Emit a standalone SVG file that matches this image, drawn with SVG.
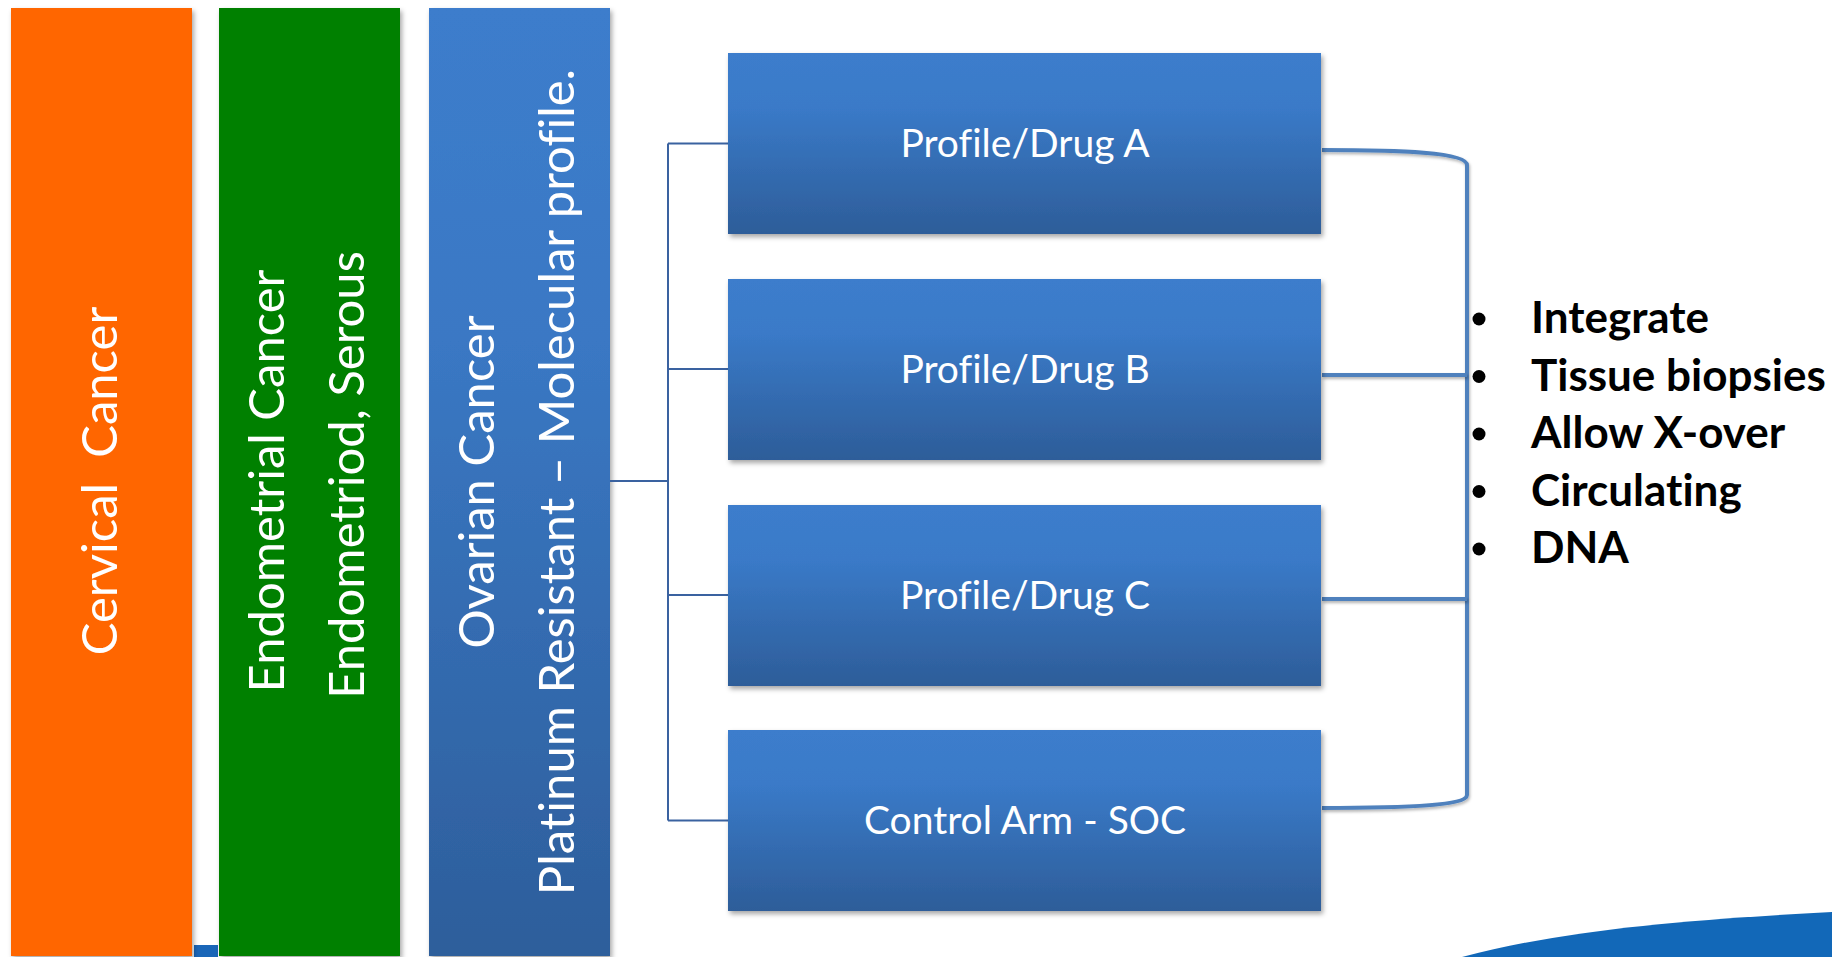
<svg xmlns="http://www.w3.org/2000/svg" width="1832" height="957" viewBox="0 0 1832 957">
  <defs>
    <linearGradient id="gBox" x1="0" y1="0" x2="0" y2="1">
      <stop offset="0" stop-color="#3c7dcc"/>
      <stop offset="0.3" stop-color="#3a7ac8"/>
      <stop offset="1" stop-color="#2d5d99"/>
    </linearGradient>
    <linearGradient id="gBar" x1="0" y1="0" x2="0" y2="1">
      <stop offset="0" stop-color="#3c7dcc"/>
      <stop offset="0.35" stop-color="#3a78c4"/>
      <stop offset="1" stop-color="#2d5e9b"/>
    </linearGradient>
    <filter id="shadow" x="-10%" y="-10%" width="130%" height="130%">
      <feDropShadow dx="2" dy="3" stdDeviation="2.5" flood-color="#000" flood-opacity="0.35"/>
    </filter>
    <filter id="lshadow" x="-10%" y="-10%" width="130%" height="130%">
      <feDropShadow dx="1" dy="2" stdDeviation="1.5" flood-color="#000" flood-opacity="0.3"/>
    </filter>
  </defs>
  <style>
    text { font-variant-ligatures: none; }
    .bar { filter: url(#shadow); }
    .vt { font-family: Lato, "Open Sans", sans-serif; font-size: 49px; fill: #ffffff; text-anchor: middle; }
    .bt { font-family: Lato, "Open Sans", sans-serif; font-size: 39px; fill: #ffffff; text-anchor: middle; }
    .li { font-family: Lato, "Open Sans", sans-serif; font-weight: bold; font-size: 44px; fill: #000000; }
    .tree { stroke: #3a62a0; stroke-width: 2; fill: none; }
    .brk { stroke: #4f81bd; stroke-width: 4; fill: none; filter: url(#lshadow); }
  </style>
  <rect width="1832" height="957" fill="#ffffff"/>

  <!-- bottom decoration -->
  <path d="M1462,957 C1565,930 1680,920 1832,912 L1832,957 Z" fill="#1268b8"/>
  <rect x="194" y="945" width="24" height="12" fill="#1a66b8"/>

  <g id="cervical">
    <rect class="bar" x="11" y="8" width="181" height="948" fill="#ff6600"/>
    <text class="vt" transform="translate(117,481) rotate(-90)" xml:space="preserve">Cervical  Cancer</text>
  </g>
  <g id="endometrial">
    <rect class="bar" x="219" y="8" width="181" height="948" fill="#008000"/>
    <text class="vt" transform="translate(284,481) rotate(-90)">Endometrial Cancer</text>
    <text class="vt" transform="translate(364,475) rotate(-90)">Endometriod, Serous</text>
  </g>
  <g id="ovarian">
    <rect class="bar" x="429" y="8" width="181" height="948" fill="url(#gBar)"/>
    <text class="vt" transform="translate(494,482) rotate(-90)">Ovarian Cancer</text>
    <text class="vt" transform="translate(574,482) rotate(-90)">Platinum Resistant – Molecular profile.</text>
  </g>

  <g id="connectors">
    <path class="tree" d="M610,481 H668 M668,143.5 V820.5 M668,143.5 H728 M668,369 H728 M668,595 H728 M668,820.5 H728"/>
    <path class="brk" d="M1322,150 C1400,150 1467,152 1467,165 V795 C1467,806 1400,808 1322,808"/>
    <path class="brk" d="M1322,375 H1467 M1322,599 H1467"/>
  </g>

  <g id="drugA">
    <rect class="bar" x="728" y="53" width="593" height="181" fill="url(#gBox)"/>
    <text class="bt" x="1025" y="157">Profile/Drug A</text>
  </g>
  <g id="drugB">
    <rect class="bar" x="728" y="279" width="593" height="181" fill="url(#gBox)"/>
    <text class="bt" x="1025" y="383">Profile/Drug B</text>
  </g>
  <g id="drugC">
    <rect class="bar" x="728" y="505" width="593" height="181" fill="url(#gBox)"/>
    <text class="bt" x="1025" y="609">Profile/Drug C</text>
  </g>
  <g id="control">
    <rect class="bar" x="728" y="730" width="593" height="181" fill="url(#gBox)"/>
    <text class="bt" x="1025" y="834">Control Arm - SOC</text>
  </g>

  <g id="list">
    <circle cx="1479" cy="319" r="6.5" fill="#000"/>
    <circle cx="1479" cy="376.5" r="6.5" fill="#000"/>
    <circle cx="1479" cy="434" r="6.5" fill="#000"/>
    <circle cx="1479" cy="491.5" r="6.5" fill="#000"/>
    <circle cx="1479" cy="549" r="6.5" fill="#000"/>
    <text class="li" x="1531" y="333">Integrate</text>
    <text class="li" x="1531" y="390.5">Tissue biopsies</text>
    <text class="li" x="1531" y="448">Allow X-over</text>
    <text class="li" x="1531" y="505.5">Circulating</text>
    <text class="li" x="1531" y="563">DNA</text>
  </g>
</svg>
